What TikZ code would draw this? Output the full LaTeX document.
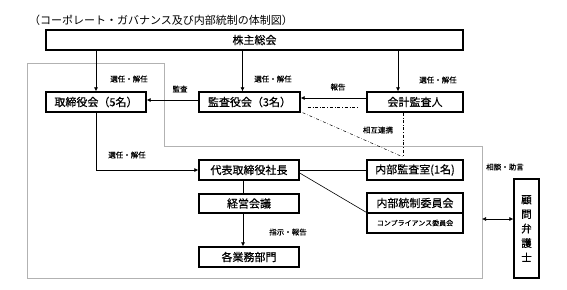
\documentclass[tikz,border=0pt]{standalone}
\usepackage{fontspec}
\setmainfont{Noto Sans CJK JP}
\newfontfamily\heavyfont[FakeBold=0.5]{Noto Sans CJK JP}
\newfontfamily\labelfont[FakeBold=0.3]{Noto Sans CJK JP}
\usetikzlibrary{positioning,arrows.meta}

\tikzset{
  box/.style={draw,line width=1.3pt,inner sep=0pt,minimum height=20pt,font=\heavyfont\fontsize{11}{13}\selectfont},
  lbl/.style={inner sep=1pt,font=\labelfont\fontsize{7.5}{9}\selectfont},
  arr/.style={-{Latex[length=4pt,width=4pt]},line width=0.6pt},
  link/.style={dash dot,line width=0.5pt}
}

\begin{document}
\begin{tikzpicture}[x=1pt,y=-1pt]
\useasboundingbox (0,0) rectangle (567,289);
% frame
\draw[gray!60,line width=0.7pt] (27,63)--(164,63)--(164,146)--(482,146)--(482,278)--(27,278)--cycle;
\node[anchor=west,inner sep=0pt,font=\fontsize{11}{13}\selectfont] (title) at (29,20) {（コーポレート・ガバナンス及び内部統制の体制図）};
% boxes
\node[box,minimum width=417pt] (soukai) at (254.5,40) {株主総会};
\node[box,minimum width=100pt] (torishimari) at (96,102) {取締役会（5名）};
\node[box,minimum width=101pt] (kansayaku) at (249.5,102) {監査役会（3名）};
\node[box,minimum width=96pt] (kaikei) at (415,102) {会計監査人};
\node[box,minimum width=100pt] (daihyo) at (249,170) {代表取締役社長};
\node[box,minimum width=100pt,minimum height=19pt] (keiei) at (249,203.5) {経営会議};
\node[box,minimum width=100pt] (gyomu) at (249,257) {各業務部門};
\node[box,minimum width=96pt] (naibu) at (415,170) {内部監査室(1名)};
\node[box,minimum width=96pt] (tousei) at (415,203) {内部統制委員会};
\node[box,minimum width=96pt,font=\labelfont\fontsize{7}{8}\selectfont] (compl) at (415,223) {コンプライアンス委員会};
\node[box,minimum width=25pt,minimum height=99pt,align=center,font=\heavyfont\fontsize{10.5}{14.5}\selectfont] (komon) at (526.5,228.5) {顧\\問\\弁\\護\\士};
\coordinate (meet) at (403,157);
\coordinate (frameR) at (482,219);
% connectors
\draw[arr] (torishimari.north |- soukai.south)--(torishimari.north);
\draw[arr] ([xshift=-7pt]kansayaku.north |- soukai.south)--([xshift=-7pt]kansayaku.north);
\draw[arr] ([xshift=-17pt]kaikei.north |- soukai.south)--([xshift=-17pt]kaikei.north);
\draw[arr] ([yshift=2pt]kansayaku.west)--([yshift=2pt]torishimari.east);
\draw[arr] ([yshift=4pt]kaikei.west)--([yshift=4pt]kansayaku.east);
\draw[link] ([xshift=7pt,yshift=-5pt]kansayaku.east)--([xshift=-7pt,yshift=-5pt]kaikei.west);
\draw[link] ([xshift=2pt]kansayaku.south east)--(meet);
\draw[link] (meet |- kaikei.south)--(meet);
\draw[arr] (torishimari.south) |- (daihyo.west);
\draw[line width=0.6pt] ([xshift=-6pt]daihyo.south)--([xshift=-6pt]keiei.north);
\draw[arr] ([xshift=-6pt]keiei.south)--([xshift=-6pt]gyomu.north);
\draw[line width=0.6pt] (daihyo.east)--(naibu.west);
\draw[line width=0.6pt] ([yshift=-3pt]daihyo.east)--(compl.north west);
\draw[{Latex[length=4pt,width=4pt]}-{Latex[length=4pt,width=4pt]},line width=0.6pt] (frameR)--(frameR -| komon.west);
% labels
\node[lbl] (l1) at (129,79) {選任・解任};
\node[lbl] (l2) at (273,79) {選任・解任};
\node[lbl] (l3) at (438,80) {選任・解任};
\node[lbl] (l4) at (127,155) {選任・解任};
\node[lbl] (l5) at (180,89) {監査};
\node[lbl] (l6) at (338,87) {報告};
\node[lbl] (l7) at (378,130) {相互連携};
\node[lbl] (l8) at (288,232) {指示・報告};
\node[lbl] (l9) at (505,167) {相談・助言};
\end{tikzpicture}
\end{document}
